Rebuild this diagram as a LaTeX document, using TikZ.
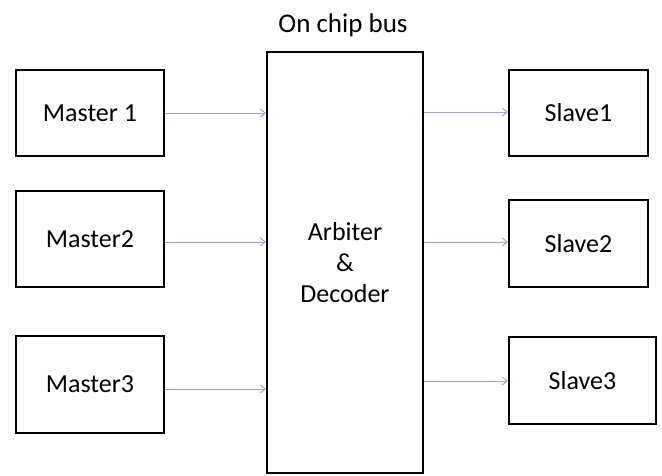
\documentclass[tikz,border=0pt]{standalone}
\usepackage{fontspec}
\setmainfont{Carlito}
\usetikzlibrary{arrows.meta}
\definecolor{arrowblue}{RGB}{150,168,205}
\begin{document}
\begin{tikzpicture}[x=1pt,y=-1pt,
  blk/.style={draw=black,line width=2pt,inner sep=0pt,anchor=north west,font=\fontsize{26}{31}\selectfont},
  conn/.style={draw=arrowblue,line width=1pt,-{Straight Barb[length=5pt,width=8pt]}}]
\useasboundingbox (0,0) rectangle (662,475);
\node[blk,minimum width=148pt,minimum height=86pt] (m1) at (15,69) {Master 1};
\node[blk,minimum width=148pt,minimum height=96pt] (m2) at (15,190) {Master2};
\node[blk,minimum width=148pt,minimum height=97pt] (m3) at (15,335) {Master3};
\node[blk,minimum width=156pt,minimum height=421pt,align=center] (c) at (266,51) {Arbiter\\\&\\Decoder};
\node[blk,minimum width=139pt,minimum height=86pt] (s1) at (508,69) {Slave1};
\node[blk,minimum width=139pt,minimum height=87pt] (s2) at (508,199) {Slave2};
\node[blk,minimum width=147pt,minimum height=87pt] (s3) at (508,336) {Slave3};
\node[font=\fontsize{27}{32}\selectfont] (t) at (343,25) {On chip bus};
\draw[conn] (m1.east |- 0,113) -- (c.west |- 0,113);
\draw[conn] (m2.east |- 0,242) -- (c.west |- 0,242);
\draw[conn] (m3.east |- 0,389) -- (c.west |- 0,389);
\draw[conn] (c.east |- 0,112) -- (s1.west |- 0,112);
\draw[conn] (c.east |- 0,242) -- (s2.west |- 0,242);
\draw[conn] (c.east |- 0,381) -- (s3.west |- 0,381);
\end{tikzpicture}
\end{document}
